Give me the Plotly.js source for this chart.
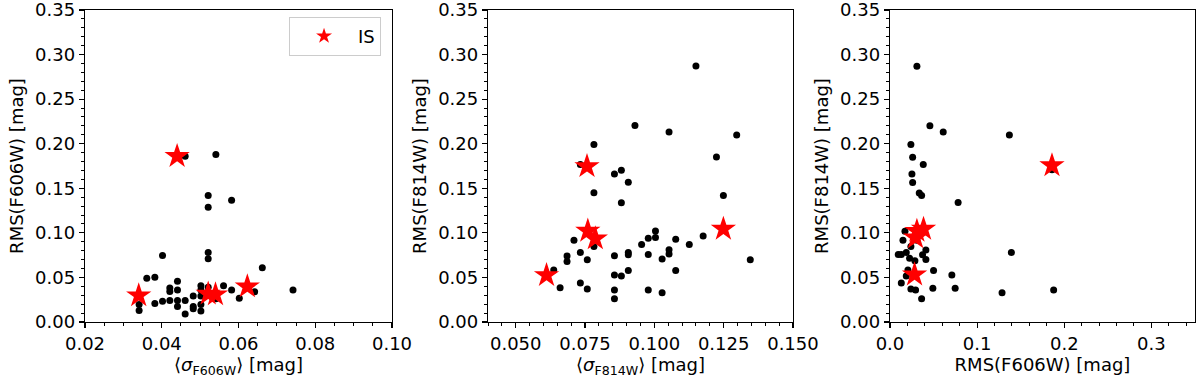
<!DOCTYPE html>
<html lang="en">
<head>
    <meta charset="UTF-8">
    <title>RMS vs sigma</title>
    <script src="https://cdn.plot.ly/plotly-3.0.1.min.js"></script>
    <style>
        body { margin: 0; padding: 0; background: #fff; }
        #plot { width: 1200px; height: 381px; }
    </style>
</head>
<body>
<div id="plot"></div>
<script>
    // Panel 1: <sigma F606W> vs RMS(F606W)
    const sig606 = [0.0461, 0.0541, 0.0521, 0.0521, 0.0582, 0.0402, 0.0521, 0.0521, 0.0662, 0.0361,
        0.0382, 0.0441, 0.0421, 0.0421, 0.0441, 0.0502, 0.0502, 0.0521, 0.0561, 0.0582,
        0.0602, 0.0642, 0.0742, 0.0341, 0.0341, 0.0382, 0.0402, 0.0421, 0.0441, 0.0441,
        0.0461, 0.0461, 0.0482, 0.0482, 0.0482, 0.0502, 0.0502, 0.0502, 0.0541, 0.0521];
    const rms606 = [0.186, 0.188, 0.1418, 0.1288, 0.1366, 0.0746, 0.078, 0.0709, 0.0609, 0.049,
        0.0501, 0.0457, 0.0382, 0.0341, 0.036, 0.0408, 0.036, 0.039, 0.0408, 0.036,
        0.0267, 0.0338, 0.036, 0.0197, 0.013, 0.0208, 0.0234, 0.0241, 0.0241, 0.0174,
        0.0241, 0.0089, 0.0293, 0.0174, 0.0148, 0.0293, 0.0197, 0.0122, 0.026, 0.031];
    const isSig606 = [0.034, 0.044, 0.0521, 0.054, 0.0623];
    const isRms606 = [0.0297, 0.186, 0.0316, 0.0308, 0.0397];

    // Panel 2: <sigma F814W> vs RMS(F814W)
    const sig814 = [0.115, 0.093, 0.1053, 0.1297, 0.0782, 0.1224, 0.0733, 0.0856, 0.0881, 0.0906,
        0.0782, 0.0881, 0.1249, 0.1004, 0.0978, 0.1004, 0.0954, 0.1077, 0.1176, 0.1126,
        0.071, 0.0782, 0.1053, 0.1053, 0.0685, 0.0685, 0.0733, 0.0758, 0.0856, 0.0906,
        0.0906, 0.0978, 0.1028, 0.1346, 0.0637, 0.1077, 0.0906, 0.0856, 0.0881, 0.066,
        0.0733, 0.0758, 0.0856, 0.0856, 0.0978, 0.1028];
    const rms814 = [0.2871, 0.2203, 0.2132, 0.2099, 0.1991, 0.185, 0.1768, 0.166, 0.1701, 0.1568,
        0.1449, 0.1337, 0.1419, 0.1022, 0.094, 0.0947, 0.0869, 0.0929, 0.0966, 0.0869,
        0.0918, 0.0847, 0.081, 0.0762, 0.0739, 0.068, 0.078, 0.0698, 0.0743, 0.078,
        0.0754, 0.0758, 0.0706, 0.0698, 0.0583, 0.0579, 0.0579, 0.0527, 0.0516, 0.0383,
        0.0438, 0.0371, 0.036, 0.026, 0.036, 0.0327];
    const isSig814 = [0.0611, 0.0757, 0.076, 0.0787, 0.1249];
    const isRms814 = [0.0524, 0.1746, 0.1022, 0.0936, 0.1044];

    // Panel 3: RMS(F606W) vs RMS(F814W)
    const rmsX = [0.0309, 0.0458, 0.0611, 0.137, 0.024, 0.026, 0.0382, 0.0252, 0.026, 0.0336,
        0.0363, 0.0782, 0.1859, 0.0172, 0.0149, 0.024, 0.0095, 0.013, 0.0187, 0.0412,
        0.0374, 0.0225, 0.0286, 0.0412, 0.0206, 0.05, 0.0187, 0.071, 0.013, 0.024,
        0.0294, 0.0492, 0.0748, 0.0363, 0.1286, 0.1878, 0.1393, 0.0309];
    const rmsY = [0.287, 0.2201, 0.2131, 0.2097, 0.199, 0.1849, 0.1767, 0.1659, 0.1566, 0.1448,
        0.1418, 0.134, 0.1708, 0.1017, 0.0917, 0.0846, 0.0757, 0.0757, 0.078, 0.0809,
        0.0754, 0.0716, 0.0687, 0.0702, 0.0583, 0.0579, 0.0516, 0.0527, 0.0438, 0.0371,
        0.036, 0.0379, 0.0379, 0.026, 0.0327, 0.036, 0.078, 0.0917];
    const isRmsX = [0.1859, 0.0282, 0.0294, 0.0309, 0.0385];
    const isRmsY = [0.1756, 0.0531, 0.0947, 0.1021, 0.1044];

    // tick labels
    const yTicks = [0, 0.05, 0.10, 0.15, 0.20, 0.25, 0.30, 0.35];
    const yTickText = ['0.00', '0.05', '0.10', '0.15', '0.20', '0.25', '0.30', '0.35'];
    const x1Ticks = [0.02, 0.04, 0.06, 0.08, 0.10];
    const x1TickText = ['0.02', '0.04', '0.06', '0.08', '0.10'];
    const x2Ticks = [0.05, 0.075, 0.10, 0.125, 0.15];
    const x2TickText = ['0.050', '0.075', '0.100', '0.125', '0.150'];
    const x3Ticks = [0, 0.1, 0.2, 0.3];
    const x3TickText = ['0.0', '0.1', '0.2', '0.3'];

    const dot = { color: 'black', size: 7 };
    const star = { color: 'red', size: 19, symbol: 'star', line: { width: 0 } };

    function dots(x, y, xa, ya) {
        return { x: x, y: y, xaxis: xa, yaxis: ya, type: 'scatter', mode: 'markers',
                 marker: dot, showlegend: false, hoverinfo: 'skip' };
    }
    function stars(x, y, xa, ya, legend) {
        return { x: x, y: y, xaxis: xa, yaxis: ya, type: 'scatter', mode: 'markers',
                 marker: star, name: 'IS', showlegend: legend };
    }

    const data = [
        dots(sig606, rms606, 'x', 'y'),
        stars(isSig606, isRms606, 'x', 'y', true),
        dots(sig814, rms814, 'x2', 'y2'),
        stars(isSig814, isRms814, 'x2', 'y2', false),
        dots(rmsX, rmsY, 'x3', 'y3'),
        stars(isRmsX, isRmsY, 'x3', 'y3', false)
    ];

    const font = { family: 'DejaVu Sans, sans-serif', size: 18, color: 'black' };

    function xAxis(domain, range, tv, tt, minor, title) {
        return {
            domain: domain, range: range, tickmode: 'array', tickvals: tv, ticktext: tt,
            showline: true, mirror: true, linecolor: 'black', linewidth: 1.2,
            ticks: 'outside', ticklen: 5, tickwidth: 1.2, tickcolor: 'black',
            minor: { dtick: minor, tick0: 0, ticks: 'outside', ticklen: 3, tickwidth: 1, tickcolor: 'black' },
            showgrid: false, zeroline: false, tickfont: font, ticklabeloverflow: 'allow',
            title: { text: title, font: font, standoff: 3 }
        };
    }
    function yAxis(anchor, title) {
        return {
            anchor: anchor, range: [0, 0.35], tickmode: 'array', tickvals: yTicks, ticktext: yTickText,
            showline: true, mirror: true, linecolor: 'black', linewidth: 1.2,
            ticks: 'outside', ticklen: 5, tickwidth: 1.2, tickcolor: 'black',
            minor: { dtick: 0.01, tick0: 0, ticks: 'outside', ticklen: 3, tickwidth: 1, tickcolor: 'black' },
            showgrid: false, zeroline: false, tickfont: font, ticklabeloverflow: 'allow',
            title: { text: title, font: font, standoff: 6 }
        };
    }

    const layout = {
        width: 1200, height: 381,
        margin: { l: 85, r: 5, t: 10, b: 59 },
        paper_bgcolor: 'white', plot_bgcolor: 'white',
        font: font,
        xaxis: xAxis([0, 0.2766], [0.02, 0.10], x1Ticks, x1TickText, 0.005, '⟨<i>σ</i><sub>F606W</sub>⟩ [mag]'),
        yaxis: yAxis('x', 'RMS(F606W) [mag]'),
        xaxis2: xAxis([0.3631, 0.6378], [0.04, 0.15], x2Ticks, x2TickText, 0.005, '⟨<i>σ</i><sub>F814W</sub>⟩ [mag]'),
        yaxis2: yAxis('x2', 'RMS(F814W) [mag]'),
        xaxis3: xAxis([0.7252, 1.0], [0, 0.35], x3Ticks, x3TickText, 0.02, 'RMS(F606W) [mag]'),
        yaxis3: yAxis('x3', 'RMS(F814W) [mag]'),
        legend: {
            x: 0.2667, xanchor: 'right', y: 0.978, yanchor: 'top',
            bordercolor: '#cccccc', borderwidth: 1, bgcolor: 'white',
            itemsizing: 'constant', itemwidth: 58, font: font
        },
        showlegend: true
    };
    layout.xaxis2.anchor = 'y2';
    layout.xaxis3.anchor = 'y3';

    Plotly.newPlot('plot', data, layout, { staticPlot: true });
</script>
</body>
</html>
